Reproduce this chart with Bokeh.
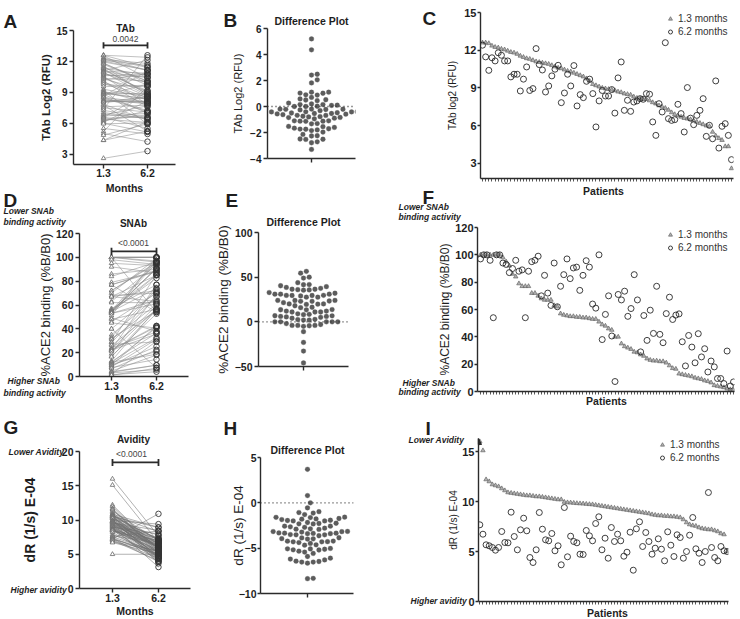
import numpy as np
from bokeh.plotting import figure
from bokeh.models import (Range1d, FixedTicker, Label, Span, Legend, LegendItem,
                          Arrow, NormalHead)
from bokeh.embed import file_html
from bokeh.resources import INLINE

FONT = "Liberation Sans"
AX = "#2b2b2b"
TXT = "#1e1e1e"

# ---------------- data ----------------
months = ["1.3", "6.2"]
legend_labels = ["1.3 months", "6.2 months"]

tab_13 = [12.6, 12.6, 12.55, 12.35, 12.25, 12.2, 12.1, 12.05, 11.95, 11.85,
          11.8, 11.7, 11.55, 11.45, 11.35, 11.3, 11.2, 11.1, 11.05, 11.0,
          10.95, 10.9, 10.8, 10.7, 10.6, 10.55, 10.45, 10.35, 10.3, 10.2,
          10.1, 10.0, 9.9, 9.75, 9.55, 9.3, 9.2, 9.1, 9.0, 8.95,
          8.9, 8.85, 8.8, 8.7, 8.65, 8.55, 8.5, 8.45, 8.3, 8.2,
          8.15, 8.1, 8.1, 8.0, 7.85, 7.75, 7.6, 7.5, 7.4, 7.25,
          7.05, 6.9, 6.8, 6.7, 6.6, 6.55, 6.5, 6.4, 6.3, 6.2,
          6.1, 6.0, 5.95, 5.5, 5.2, 5.0, 4.85, 4.35, 4.35, 2.6]
tab_62 = [12.4, 11.47, 10.4, 11.4, 11.15, 11.8, 11.6, 11.15, 11.15, 9.88,
          10.09, 10.09, 8.76, 9.7, 10.67, 8.8, 8.95, 12.13, 10.86, 10.43,
          8.68, 9.16, 9.96, 10.49, 10.8, 7.83, 8.6, 10.09, 9.16, 10.78,
          7.57, 8.47, 8.23, 9.53, 9.7, 8.55, 5.9, 7.97, 8.8, 8.36,
          8.36, 8.87, 7.0, 9.8, 11.07, 7.22, 8.02, 7.14, 7.88, 7.97,
          8.15, 8.1, 8.55, 8.5, 6.3, 5.23, 7.75, 7.09, 12.6, 6.56,
          6.42, 6.48, 7.7, 6.96, 5.5, 9.03, 6.6, 6.08, 6.82, 7.22,
          8.15, 5.15, 6.03, 4.96, 9.56, 4.22, 5.95, 6.16, 5.23, 3.3]

snab_13 = [100, 100, 100, 100, 100, 100, 100, 98, 95, 92,
           86, 84, 79, 77, 77, 77, 72, 72, 70, 68,
           67, 67, 67, 63, 62, 57, 56, 55.5, 55, 55,
           54.5, 54.5, 54, 54, 53.5, 53, 53, 51, 49, 48,
           46, 45, 40, 40, 35, 33, 32, 31, 29, 28.5,
           27, 26, 24, 23, 22.5, 22.5, 22, 22, 21, 19,
           17, 16.5, 13, 12.5, 12, 11.5, 11, 10, 9.5, 9,
           8, 7.5, 6.5, 4.5, 4, 3.5, 3, 2, 1.5, 1]
snab_62 = [97, 100, 100, 96, 54, 100, 100, 94, 93, 87,
           90, 96, 88, 89, 54, 88, 95, 96, 99, 70,
           85, 72, 63, 94, 62, 77, 85.5, 97, 82.6, 90.4,
           91, 74, 85, 95.7, 91, 64, 61, 100, 38, 56.4,
           70, 40.6, 7.3, 71, 67, 73.4, 55, 60.7, 85.5, 67,
           29, 55.6, 37.4, 59.5, 42.5, 77, 41.8, 35.7, 57, 69,
           52.7, 55.9, 56.8, 36.4, 18.7, 41, 32.5, 21, 42.3, 25.3,
           31.3, 14.3, 22.3, 18, 9.5, 9.5, 5.8, 29.6, 4, 7]

avid_13 = [16.0, 15.1, 12.2, 12.0, 11.7, 11.6, 11.5, 11.3, 11.1, 10.9,
           10.85, 10.8, 10.75, 10.7, 10.65, 10.6, 10.6, 10.55, 10.5, 10.5,
           10.45, 10.4, 10.35, 10.3, 10.25, 10.2, 10.2, 9.95, 9.9, 9.88,
           9.85, 9.82, 9.8, 9.78, 9.75, 9.72, 9.7, 9.65, 9.6, 9.55,
           9.5, 9.45, 9.4, 9.35, 9.3, 9.25, 9.2, 9.15, 9.1, 9.05,
           9.0, 8.95, 8.9, 8.85, 8.8, 8.7, 8.65, 8.6, 8.6, 8.55,
           8.55, 8.5, 8.5, 8.45, 8.4, 8.2, 7.9, 7.7, 7.6, 7.55,
           7.4, 7.3, 7.25, 7.2, 7.2, 7.1, 7.0, 6.8, 6.7, 5.0]
avid_62 = [7.67, 6.73, 5.67, 5.57, 5.4, 5.13, 5.4, 7.0, 5.9, 5.87,
           8.93, 6.5, 5.17, 7.17, 8.33, 7.07, 4.4, 3.9, 5.17, 8.9,
           7.23, 6.17, 6.07, 6.8, 5.07, 5.57, 3.67, 9.4, 4.47, 6.53,
           6.0, 5.87, 4.73, 4.7, 7.1, 6.57, 6.07, 7.8, 8.47, 5.17,
           6.33, 4.33, 7.4, 6.0, 6.73, 6.07, 4.53, 4.93, 6.93, 3.13,
           7.27, 7.97, 5.5, 6.9, 6.0, 4.73, 5.33, 6.27, 5.23, 4.07,
           6.97, 5.63, 4.5, 6.67, 6.4, 4.33, 5.0, 6.63, 8.4, 5.27,
           4.83, 3.9, 5.0, 10.9, 5.4, 4.4, 4.07, 5.5, 5.07, 5.0]

N = len(tab_13)
patients = list(range(1, N + 1))


# ---------------- helpers ----------------
def mk(frame, box, xr, yr):
    fl, fr, ft, fb = frame
    X0, Y0, X1, Y1 = box
    p = figure(width=X1 - X0, height=Y1 - Y0, x_range=Range1d(*xr), y_range=Range1d(*yr),
               min_border_left=fl - X0, min_border_right=X1 - fr,
               min_border_top=ft - Y0, min_border_bottom=Y1 - fb,
               output_backend="svg", toolbar_location=None, title=None)
    p.styles = {"position": "absolute", "left": f"{X0}px", "top": f"{Y0}px"}
    p.outline_line_color = None
    p.xgrid.visible = False
    p.ygrid.visible = False
    p.background_fill_color = None
    p.border_fill_color = None
    for ax in (p.xaxis[0], p.yaxis[0]):
        ax.axis_line_color = AX
        ax.axis_line_width = 1.4
        ax.major_tick_line_color = AX
        ax.major_tick_line_width = 1.4
        ax.major_tick_in = 0
        ax.major_tick_out = 4
        ax.minor_tick_line_color = None
        ax.major_label_text_font = FONT
        ax.major_label_text_font_style = "bold"
        ax.major_label_text_color = TXT
        ax.major_label_standoff = 2
        ax.axis_label_text_font = FONT
        ax.axis_label_text_color = TXT
    return p


def yaxis(p, ticks, label, lsize, lstyle, tsize, standoff, tick_out=4, lab_standoff=2):
    ax = p.yaxis[0]
    ax.ticker = FixedTicker(ticks=ticks)
    ax.axis_label = label
    ax.axis_label_text_font_size = f"{lsize}px"
    ax.axis_label_text_font_style = lstyle
    ax.axis_label_standoff = standoff
    ax.major_label_text_font_size = f"{tsize}px"
    ax.major_tick_out = tick_out
    ax.major_label_standoff = lab_standoff


def paired(p, a, b, lab_standoff, title_standoff, line_color="#8c8c8c"):
    xs = [[0, 1] for _ in a]
    ys = [[u, v] for u, v in zip(a, b)]
    p.multi_line(xs, ys, line_color=line_color, line_width=0.6, line_alpha=0.9)
    p.scatter([0] * len(a), a, marker="triangle", size=4.5, fill_color="white",
              line_color="#6a6a6a", line_width=0.8)
    p.scatter([1] * len(b), b, marker="circle", size=5.5, fill_alpha=0,
              line_color="#333333", line_width=0.9)
    ax = p.xaxis[0]
    ax.ticker = FixedTicker(ticks=[0, 1])
    ax.major_label_overrides = {0: months[0], 1: months[1]}
    ax.major_label_text_font_size = "10.5px"
    ax.major_label_standoff = lab_standoff
    ax.axis_label = "Months"
    ax.axis_label_text_font_size = "10.5px"
    ax.axis_label_text_font_style = "bold"
    ax.axis_label_standoff = title_standoff


def bracket(p, yb, cap):
    p.line([0, 1], [yb, yb], line_color=AX, line_width=1.8)
    p.segment([0, 1], [yb - cap] * 2, [0, 1], [yb + cap] * 2, line_color=AX, line_width=1.8)


def swarm(vals, py, px, d=5.2):
    vals = np.asarray(vals, float)
    order = np.argsort(vals)
    placed = []
    out = np.zeros(len(vals))
    steps = [0.0]
    for j in range(1, 40):
        steps += [j * d * 0.55, -j * d * 0.55]
    for i in order:
        y = vals[i] * py
        for c in steps:
            if all((c - qx) ** 2 + (y - qy) ** 2 >= d * d for qx, qy in placed):
                break
        placed.append((c, y))
        out[i] = c / px
    return out


def diffplot(p, diffs, py, px, ticks, label, lsize, tsize, standoff, tick_out=4, lab_standoff=2):
    xs = swarm(diffs, py, px)
    p.scatter(xs, diffs, marker="circle", size=4.8, fill_color="#5c5c5c", line_color="#5c5c5c",
              line_width=0.3)
    p.add_layout(Span(location=0, dimension="width", line_color="#333333",
                      line_dash="1 3", line_width=1.4))
    ax = p.xaxis[0]
    ax.ticker = FixedTicker(ticks=[0])
    ax.major_label_text_color = None
    yaxis(p, ticks, label, lsize, "normal", tsize, standoff, tick_out, lab_standoff)


def series(p, a, b, legend_xy):
    rt = p.scatter(patients, a, marker="triangle", size=4.5, fill_color="#b0b0b0",
                   line_color="#555555", line_width=0.6)
    rc = p.scatter(patients, b, marker="circle", size=6, fill_alpha=0,
                   line_color="#2a2a2a", line_width=0.9)
    ax = p.xaxis[0]
    ax.ticker = FixedTicker(ticks=patients)
    ax.major_label_text_color = None
    ax.major_label_standoff = 0
    ax.major_tick_out = 3
    ax.major_tick_line_width = 0.8
    leg = Legend(items=[LegendItem(label=legend_labels[0], renderers=[rt]),
                        LegendItem(label=legend_labels[1], renderers=[rc])],
                 location=legend_xy, orientation="vertical",
                 label_text_font=FONT, label_text_font_size="10px",
                 label_text_color="#333333", glyph_width=10, glyph_height=13,
                 label_height=13, label_standoff=3, spacing=0, padding=0, margin=0,
                 border_line_color=None, background_fill_alpha=0)
    p.add_layout(leg)


# ---------------- panels ----------------
pA = mk((73, 175, 30, 164), (25, 25, 178, 198), (-0.682, 1.636), (2, 15))
paired(pA, tab_13, tab_62, 0, 2)
yaxis(pA, [3, 6, 9, 12, 15], "TAb Log2 (RFU)", 11.5, "bold", 10, 1)
bracket(pA, 13.55, 0.3)

pB = mk((267, 355, 28, 158), (228, 24, 358, 165), (-1, 1), (-4, 6))
tab_diff = np.array(tab_62) - np.array(tab_13)
diffplot(pB, tab_diff, 13.0, 44.0, [-4, -2, 0, 2, 4, 6], "TAb Log2 (RFU)", 11, 10, 3)

pC = mk((480, 733, 12, 178), (440, 6, 738, 196), (0.365, 80.635), (1.8, 15))
series(pC, tab_13, tab_62, (185, 140))
yaxis(pC, [3, 6, 9, 12, 15], "TAb log2 (RFU)", 10, "normal", 11, 3, tick_out=3, lab_standoff=1)

pD = mk((79, 188, 233, 376), (28, 228, 191, 412), (-0.711, 1.711), (0, 120))
paired(pD, snab_13, snab_62, 1, 0)
yaxis(pD, [0, 20, 40, 60, 80, 100, 120], "%ACE2 binding (%B/B0)", 13, "normal", 10.5, 0)
bracket(pD, 105, 3)

pE = mk((258, 348, 232, 366), (208, 212, 351, 388), (-1, 1), (-50, 100))
snab_diff = np.array(snab_62) - np.array(snab_13)
diffplot(pE, snab_diff, 134 / 150, 45.0, [-50, 0, 50, 100], "%ACE2 binding (%B/B0)",
         13.5, 10.5, 1)

pF = mk((477, 734, 227, 391), (432, 212, 738, 397), (0.063, 80.31), (0, 120))
series(pF, snab_13, snab_62, (188, 137))
yaxis(pF, [0, 20, 40, 60, 80, 100, 120], "%ACE2 binding (%B/B0)", 12, "normal", 11, 0,
      tick_out=3, lab_standoff=1)

pG = mk((79, 190, 451, 589), (12, 446, 193, 619), (-0.717, 1.696), (0, 20))
paired(pG, avid_13, avid_62, 1, 0, line_color="#707070")
yaxis(pG, [0, 5, 10, 15, 20], "dR (1/s) E-04", 14, "bold", 10.5, 21)
bracket(pG, 18.4, 0.5)

pH = mk((260, 353, 457, 593), (226, 446, 356, 604), (-1, 0.979), (-10, 5))
avid_diff = np.array(avid_62) - np.array(avid_13)
diffplot(pH, avid_diff, 136 / 15, 47.0, [-10, -5, 0, 5], "dR (1/s) E-04", 13.5, 10.5, -10,
         tick_out=3, lab_standoff=1)

pI = mk((478, 728, 438, 601), (440, 432, 735, 608), (0.585, 80.415), (0, 16.3))
series(pI, avid_13, avid_62, (179, 137))
yaxis(pI, [0, 5, 10, 15], "dR (1/s) E-04", 10, "normal", 11, 0, tick_out=3, lab_standoff=1)
pI.add_layout(Arrow(end=NormalHead(size=6, fill_color=AX, line_color=AX, line_width=1),
                    x_start=0.585, y_start=15.6, x_end=0.585, y_end=16.3,
                    line_color=AX, line_width=1.4))

# ---------------- text overlay (page coordinates) ----------------
ov = figure(width=740, height=619, x_range=Range1d(0, 740), y_range=Range1d(619, 0),
            min_border_left=0, min_border_right=0, min_border_top=0, min_border_bottom=0,
            x_axis_location=None, y_axis_location=None,
            output_backend="svg", toolbar_location=None, title=None)
ov.styles = {"position": "absolute", "left": "0px", "top": "0px"}
ov.outline_line_color = None
ov.background_fill_color = None
ov.border_fill_color = None
ov.xgrid.visible = False
ov.ygrid.visible = False
ov.grid.grid_line_color = None


def ot(s, x, y, size, style="normal", align="center", base="middle", color=TXT):
    ov.add_layout(Label(x=x, y=y, text=s, text_font=FONT, text_font_size=f"{size}px",
                        text_font_style=style, text_align=align, text_baseline=base,
                        text_color=color))


for letter, lx, ly in (("A", 3, 21), ("B", 223, 20), ("C", 422, 18),
                       ("D", 3, 200), ("E", 225, 200), ("F", 422, 197),
                       ("G", 3, 427), ("H", 223, 428), ("I", 425, 428)):
    ot(letter, lx, ly, 19, "bold", align="left", base="alphabetic")

ot("TAb", 125, 28, 10, "bold")
ot("0.0042", 125, 38, 8.5, color="#444444")
ot("SNAb", 133, 223, 10, "bold")
ot("<0.0001", 133, 242, 8.5, color="#444444")
ot("Avidity", 133, 439, 10, "bold")
ot("<0.0001", 131, 453, 8.5, color="#444444")
ot("Difference Plot", 311, 20, 10.5, "bold")
ot("Difference Plot", 303, 221, 10.5, "bold")
ot("Difference Plot", 307, 449, 10.5, "bold")
ot("Patients", 603, 190, 10.5, "bold")
ot("Patients", 606, 400, 10.5, "bold")
ot("Patients", 607, 612, 10.5, "bold")

for s, x, y in (("Lower SNAb", 3, 210), ("binding activity", 3, 221.5),
                ("Higher SNAb", 7, 380), ("binding activity", 3, 392),
                ("Lower SNAb", 398, 206), ("binding activity", 398, 216.5),
                ("Higher SNAb", 402, 382.5), ("binding activity", 398, 391.5),
                ("Lower Avidity", 8, 451), ("Higher avidity", 10, 589),
                ("Lower Avidity", 408, 439), ("Higher avidity", 410, 600)):
    ot(s, x, y, 8.5, "bold italic", align="left")

roots = [pA, pB, pC, pD, pE, pF, pG, pH, pI, ov]

with open("out.html", "w") as f:
    f.write(file_html(roots, INLINE))
